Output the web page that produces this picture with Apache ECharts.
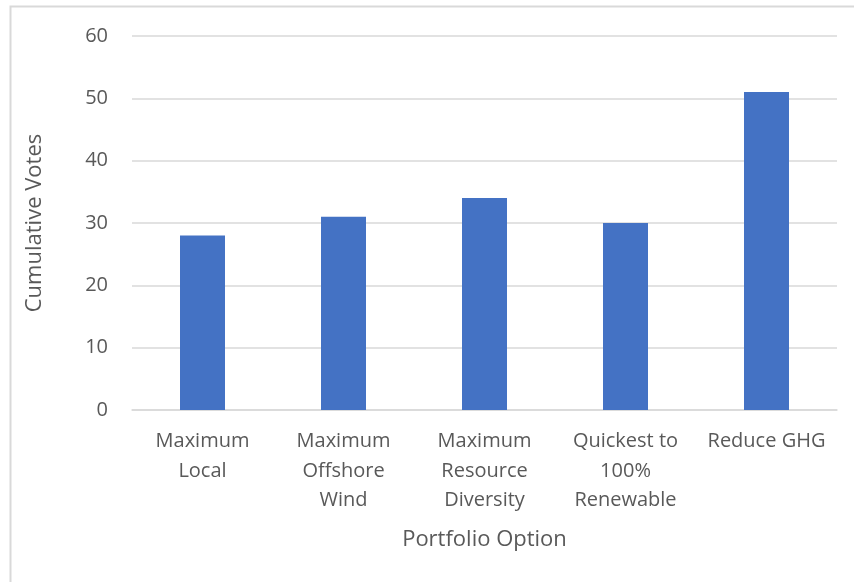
<!DOCTYPE html>
<html>
<head>
<meta charset="utf-8">
<script src="https://cdn.jsdelivr.net/npm/echarts@6/dist/echarts.min.js"></script>
<style>
  html, body { margin: 0; padding: 0; background: #fff; }
  #chart { width: 854px; height: 582px; }
</style>
</head>
<body>
<div id="chart"></div>
<script>
// data
const categories = ['Maximum\nLocal', 'Maximum\nOffshore\nWind', 'Maximum\nResource\nDiversity', 'Quickest to\n100%\nRenewable', 'Reduce GHG'];
const votes = [28, 31, 34, 30, 51];
const yTicks = { min: 0, max: 60, interval: 10 };

const textColor = '#595959';
const fontFamily = '"Open Sans", "Noto Sans", sans-serif';

const chart = echarts.init(document.getElementById('chart'));
chart.setOption({
  animation: false,
  backgroundColor: '#fff',
  textStyle: { fontFamily: fontFamily, color: textColor },
  graphic: [{
    type: 'rect',
    silent: true,
    shape: { x: 10.5, y: 6.5, width: 1000, height: 1000 },
    style: { fill: 'none', stroke: '#d9d9d9', lineWidth: 2 }
  }],
  grid: {
    left: 132,
    right: 17,
    top: 36,
    bottom: 172
  },
  xAxis: {
    type: 'category',
    data: categories,
    name: 'Portfolio Option',
    nameLocation: 'middle',
    nameGap: 119,
    nameTextStyle: { fontSize: 22, color: textColor, fontFamily: fontFamily },
    axisLine: { show: true, lineStyle: { color: '#d9d9d9', width: 1.5 } },
    axisTick: { show: false },
    axisLabel: {
      fontSize: 20,
      color: textColor,
      lineHeight: 29.5,
      margin: 17,
      interval: 0,
      verticalAlign: 'top'
    }
  },
  yAxis: {
    type: 'value',
    min: yTicks.min,
    max: yTicks.max,
    interval: yTicks.interval,
    name: 'Cumulative Votes',
    nameLocation: 'middle',
    nameGap: 86,
    nameTextStyle: { fontSize: 22, color: textColor, fontFamily: fontFamily },
    axisLine: { show: false },
    axisTick: { show: false },
    axisLabel: { fontSize: 20, color: textColor, margin: 24 },
    splitLine: { lineStyle: { color: '#d9d9d9', width: 1.5 } }
  },
  series: [{
    type: 'bar',
    data: votes,
    barWidth: 45,
    itemStyle: { color: '#4472C4' }
  }]
});
</script>
</body>
</html>
